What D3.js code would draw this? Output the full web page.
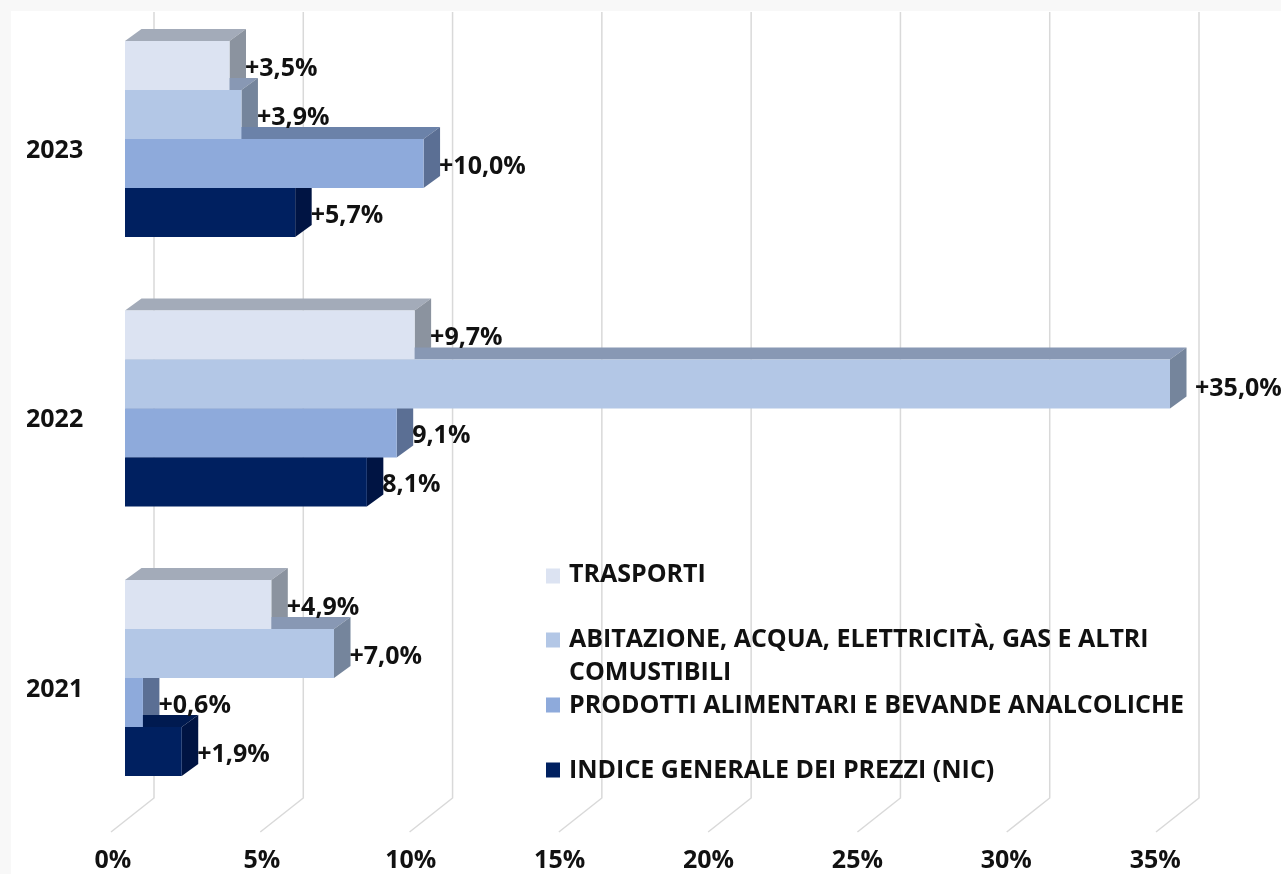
<!DOCTYPE html>
<html><head><meta charset="utf-8">
<script src="https://cdn.jsdelivr.net/npm/d3@7/dist/d3.min.js"></script>
<style>html,body{margin:0;padding:0;background:#f8f8f8}svg{display:block;filter:blur(0.5px)}text{font-family:"Open Sans",sans-serif;font-weight:700;fill:#111}</style>
</head><body><svg id="c" width="1281" height="874"></svg>
<script>
const years = ["2023","2022","2021"];
const legendLines = [["TRASPORTI"],["ABITAZIONE, ACQUA, ELETTRICITÀ, GAS E ALTRI","COMUSTIBILI"],["PRODOTTI ALIMENTARI E BEVANDE ANALCOLICHE"],["INDICE GENERALE DEI PREZZI (NIC)"]];
const trasporti = [3.5,9.7,4.9];
const abitazione = [3.9,35.0,7.0];
const alimentari = [10.0,9.1,0.6];
const indice = [5.7,8.1,1.9];
const colors = ["#dce3f2","#b3c7e6","#8eaadb","#002060"];
const topColors = ["#a3abb9","#8898b4","#6b82a9","#001a50"];
const sideColors = ["#8b939f","#75859c","#5b6f94","#001443"];
const ticks = [0,5,10,15,20,25,30,35];
const valueLabels = ["+3,5%","+3,9%","+10,0%","+5,7%","+9,7%","+35,0%","9,1%","8,1%","+4,9%","+7,0%","+0,6%","+1,9%"];
const all = [trasporti,abitazione,alimentari,indice];

const FS = 25;
const svg = d3.select("#c");
svg.append("rect").attr("x",11).attr("y",11).attr("width",1270).attr("height",863).attr("fill","#fff");
const x = d3.scaleLinear().domain([0,35]).range([125,1170]);
const y0 = d3.scaleBand().domain(years).range([41,776]).paddingInner(73.5/269.5).paddingOuter(0);
const y1 = d3.scaleBand().domain(d3.range(4)).range([0,y0.bandwidth()]);
const dx=16.5, dy=12;
const gridTop=12, gridBot=798;
ticks.forEach(t=>{
  const bx=x(t)+29;
  svg.append("path").attr("d",`M${bx},${gridTop}V${gridBot}L${bx-43},832`).attr("fill","none").attr("stroke","#d9d9d9").attr("stroke-width",1.5);
  svg.append("text").attr("x",bx-41-t*0.08).attr("y",868).attr("text-anchor","middle").attr("font-size",FS).text(t+"%");
});
const bars=[];
years.forEach((yr,i)=>all.forEach((s,j)=>bars.push({yr,i,j,v:s[i],lab:valueLabels[i*4+j]})));
const g=svg.append("g");
bars.forEach(b=>{
  const X=x(b.v), L=x(0), T=y0(b.yr)+y1(b.j), H=y1.bandwidth();
  b.X=X;b.T=T;b.H=H;
  g.append("path").attr("d",`M${L},${T}l${dx},${-dy}H${X+dx}L${X},${T}Z`).attr("fill",topColors[b.j]);
  g.append("path").attr("d",`M${X},${T}l${dx},${-dy}v${H}l${-dx},${dy}Z`).attr("fill",sideColors[b.j]);
});
bars.forEach(b=>{
  g.append("rect").attr("x",x(0)).attr("y",b.T).attr("width",b.X-x(0)).attr("height",b.H).attr("fill",colors[b.j]);
});
bars.forEach(b=>{
  const big = b.v===35;
  svg.append("text").attr("x",b.X+(big?25:15.5)).attr("y",b.T+b.H/2+(big?12:10)).attr("font-size",FS).text(b.lab);
});
years.forEach(yr=>{
  svg.append("text").attr("x",26).attr("y",y0(yr)+y0.bandwidth()/2+18.5).attr("font-size",FS).text(yr);
});
const legY=[576,640,705,770];
const legText=[573.5,638.5,704.5,769.5];
legendLines.forEach((ls,i)=>{
  svg.append("rect").attr("x",546).attr("y",legY[i]-7.5).attr("width",14).attr("height",15).attr("fill",colors[i]);
  ls.forEach((l,k)=>svg.append("text").attr("x",569).attr("y",legText[i]+8.5+k*33).attr("font-size",FS).text(l));
});
</script></body></html>
